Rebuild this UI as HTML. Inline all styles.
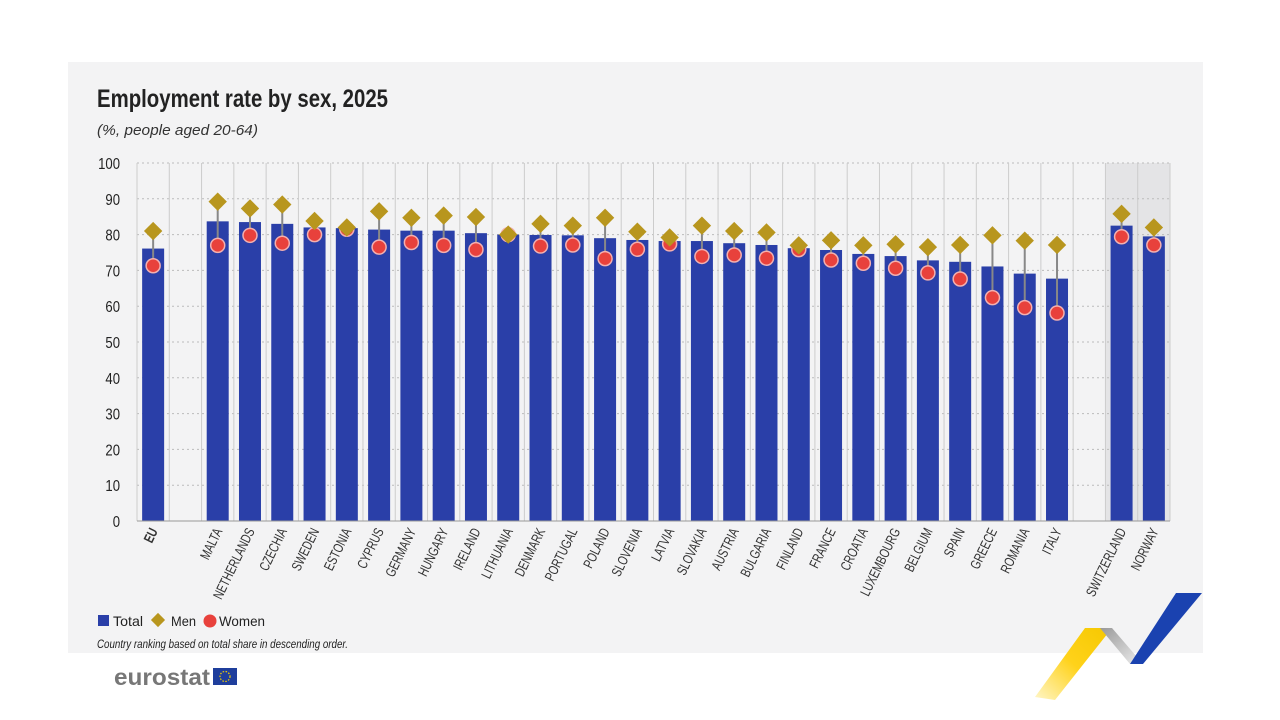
<!DOCTYPE html>
<html><head><meta charset="utf-8"><style>
body{margin:0;background:#fff;}
svg{display:block;font-family:"Liberation Sans",sans-serif;}
</style></head><body>
<svg width="1280" height="720" viewBox="0 0 1280 720" xmlns="http://www.w3.org/2000/svg">
<rect x="68" y="62" width="1135" height="591" fill="#f3f3f4"/>
<text x="97" y="107" font-size="25" font-weight="bold" fill="#222" textLength="291" lengthAdjust="spacingAndGlyphs">Employment rate by sex, 2025</text>
<text x="97" y="135" font-size="15" font-style="italic" fill="#333" textLength="161" lengthAdjust="spacingAndGlyphs">(%, people aged 20-64)</text>
<g id="chart"></g>
<g font-size="14" fill="#222">
<rect x="98" y="615" width="11" height="11" fill="#2a3fa8"/>
<text x="113" y="626" textLength="30" lengthAdjust="spacingAndGlyphs">Total</text>
<rect x="153" y="615" width="10" height="10" fill="#b8961e" transform="rotate(45 158 620)"/>
<text x="171" y="626" textLength="25" lengthAdjust="spacingAndGlyphs">Men</text>
<circle cx="210" cy="621" r="6.5" fill="#e8413c"/>
<text x="219" y="626" textLength="46" lengthAdjust="spacingAndGlyphs">Women</text>
</g>
<text x="97" y="648" font-size="11.5" font-style="italic" fill="#222" textLength="251" lengthAdjust="spacingAndGlyphs">Country ranking based on total share in descending order.</text>
<text x="114" y="685" font-size="23" font-weight="bold" fill="#777" textLength="96" lengthAdjust="spacingAndGlyphs">eurostat</text>
<rect x="213" y="668" width="24" height="17" fill="#1f3e9c"/>
<circle cx="225" cy="676.5" r="5" fill="none" stroke="#f5d000" stroke-width="1.2" stroke-dasharray="1.5 1.5"/>
<defs>
<linearGradient id="yg" x1="0" y1="1" x2="1" y2="0"><stop offset="0" stop-color="#fff6c8"/><stop offset="0.5" stop-color="#ffd21a"/><stop offset="1" stop-color="#f5c800"/></linearGradient>
<linearGradient id="gg" x1="0" y1="0" x2="1" y2="1"><stop offset="0" stop-color="#999"/><stop offset="1" stop-color="#eee"/></linearGradient>
</defs>
<polygon points="1035,697 1085,628 1112,628 1055,700" fill="url(#yg)"/>
<polygon points="1100,628 1112,628 1143,664 1130,664" fill="url(#gg)"/>
<polygon points="1130,664 1176,593 1202,593 1143,664" fill="#1a42b0"/>
</svg>
<script>
const d=[["EU",76.1,81,71.3],null,["MALTA",83.7,89.2,77],["NETHERLANDS",83.5,87.3,79.8],["CZECHIA",83,88.4,77.6],["SWEDEN",82,83.8,80],["ESTONIA",81.8,82,81.5],["CYPRUS",81.4,86.5,76.5],["GERMANY",81.1,84.7,77.8],["HUNGARY",81.1,85.3,77],["IRELAND",80.4,84.9,75.8],["LITHUANIA",80,80,80],["DENMARK",79.9,83,76.8],["PORTUGAL",79.8,82.5,77.1],["POLAND",79,84.7,73.3],["SLOVENIA",78.5,80.8,75.9],["LATVIA",78.2,79.2,77.4],["SLOVAKIA",78.2,82.5,73.9],["AUSTRIA",77.6,81,74.3],["BULGARIA",77.1,80.6,73.4],["FINLAND",76.2,77,75.8],["FRANCE",75.7,78.4,72.9],["CROATIA",74.6,77,72],["LUXEMBOURG",74,77.3,70.6],["BELGIUM",72.8,76.5,69.3],["SPAIN",72.4,77.1,67.6],["GREECE",71.1,79.8,62.4],["ROMANIA",69.1,78.3,59.6],["ITALY",67.7,77.1,58.1],null,["SWITZERLAND",82.5,85.8,79.4],["NORWAY",79.5,82,77.1]];
const L=137,R=1170,W=(R-L)/32,y=v=>521-3.58*v;
let s=`<rect x="${L+W*30}" y="163" width="${W*2}" height="358" fill="#e4e4e6"/>`;
for(let v=0;v<=100;v+=10){s+=`<text x="0" y="0" font-size="16" fill="#222" text-anchor="end" transform="translate(120 ${y(v)+6}) scale(0.82 1)">${v}</text>`;if(v>0)s+=`<line x1="${L}" x2="${R}" y1="${y(v)}" y2="${y(v)}" stroke="#bbb" stroke-dasharray="2 3"/>`;}
for(let i=0;i<=32;i++)s+=`<line x1="${L+W*i}" x2="${L+W*i}" y1="163" y2="521" stroke="#ccc"/>`;
d.forEach((r,i)=>{if(!r)return;const c=L+W*(i+.5);
s+=`<rect x="${c-11}" y="${y(r[1])}" width="22" height="${521-y(r[1])}" fill="#2a3fa8"/>`;
s+=`<line x1="${c}" x2="${c}" y1="${y(r[2])}" y2="${y(r[3])}" stroke="#888" stroke-width="2"/>`;
s+=`<circle cx="${c}" cy="${y(r[3])}" r="7" fill="#e8413c" stroke="#f3b0b0" stroke-width="1.5"/>`;
s+=`<rect x="${c-6.5}" y="${y(r[2])-6.5}" width="13" height="13" fill="#b8961e" transform="rotate(45 ${c} ${y(r[2])})"/>`;
s+=`<text x="0" y="0" font-size="14" fill="#333" text-anchor="end" ${i==0?'font-weight="bold"':''} transform="translate(${c+5} 531) rotate(-64) scale(0.74 1)">${r[0]}</text>`;});
s+=`<line x1="${L}" x2="${R}" y1="521" y2="521" stroke="#999"/>`;
document.getElementById('chart').innerHTML=s;
</script>
</body></html>
